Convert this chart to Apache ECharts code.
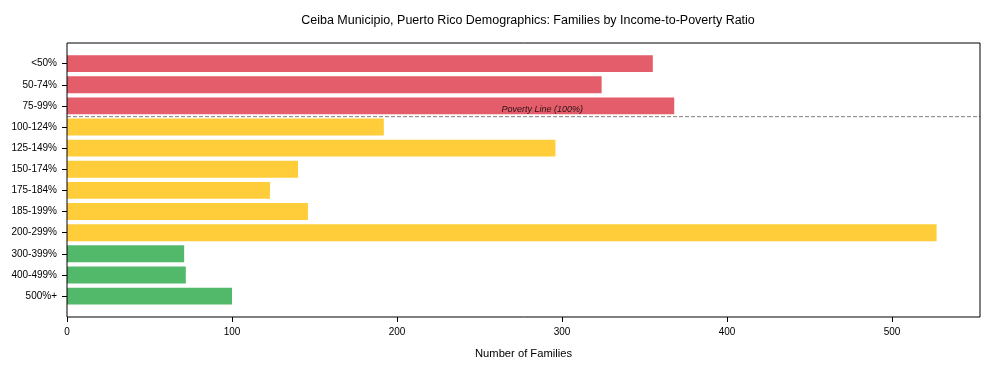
<!DOCTYPE html>
<html><head><meta charset="utf-8">
<script src="https://cdn.jsdelivr.net/npm/echarts@6/dist/echarts.min.js"></script>
<style>html,body{margin:0;padding:0;background:#fff}#c{width:990px;height:370px}</style>
</head><body><div id="c"></div>
<script>
const categories = ['<50%','50-74%','75-99%','100-124%','125-149%','150-174%','175-184%','185-199%','200-299%','300-399%','400-499%','500%+'];
const families = [355, 324, 368, 192, 296, 140, 123, 146, 527, 71, 72, 100];
const groups = ['below','below','below','near','near','near','near','near','near','above','above','above'];
const groupColors = {below:'#e35d6a', near:'#ffcd39', above:'#53b96a'};
const xTicks = [0,100,200,300,400,500];
const xMax = 553.3;
const povertyLinePos = 2.5;
const povertyLabel = 'Poverty Line (100%)';
const povertyLabelX = 288;

const font = 'Liberation Sans, Arial, sans-serif';
const chart = echarts.init(document.getElementById('c'), null, {renderer:'canvas'});
chart.setOption({
  animation:false,
  backgroundColor:'#fff',
  title:{text:'Ceiba Municipio, Puerto Rico Demographics: Families by Income-to-Poverty Ratio',
    left:523, textAlign:'center', top:9,
    textStyle:{fontFamily:font, fontSize:12.5, fontWeight:'normal', color:'#000'}},
  grid:[
    {left:67, right:10, top:43, bottom:53, show:true, borderColor:'#000', borderWidth:1, backgroundColor:'transparent', z:10},
    {left:67, right:10, top:53.05, bottom:63.35, show:false}
  ],
  xAxis:[
    {gridIndex:0, type:'value', min:0, max:xMax, interval:100, position:'bottom',
      name:'Number of Families', nameLocation:'middle', nameGap:31,
      nameTextStyle:{fontFamily:font, fontSize:11.2, color:'#000'},
      axisLine:{show:false, onZero:false}, splitLine:{show:false},
      axisTick:{show:true, length:5, lineStyle:{color:'#000'}, customValues:xTicks},
      axisLabel:{fontFamily:font, fontSize:10, color:'#000', margin:10, customValues:xTicks}},
    {gridIndex:1, type:'value', min:0, max:xMax, show:false, axisLine:{onZero:false}}
  ],
  yAxis:[
    {gridIndex:0, type:'value', min:-0.99, max:11.99, inverse:true, show:false, axisLine:{onZero:false}},
    {gridIndex:1, type:'category', data:categories, inverse:true,
      axisLine:{show:false, onZero:false}, splitLine:{show:false},
      axisTick:{show:true, alignWithLabel:true, length:5, lineStyle:{color:'#000'}},
      axisLabel:{fontFamily:font, fontSize:10, color:'#000', margin:10}}
  ],
  series:[
    {type:'bar', xAxisIndex:1, yAxisIndex:1, barWidth:'80%',
      data:families.map((v,i)=>({value:v, itemStyle:{color:groupColors[groups[i]]}}))},
    {type:'line', xAxisIndex:0, yAxisIndex:0, symbol:'none', z:5,
      lineStyle:{color:'#808080', width:1, type:[4,2]},
      data:[[0,povertyLinePos],[xMax,povertyLinePos]]},
    {type:'scatter', xAxisIndex:0, yAxisIndex:0, symbolSize:0, z:6,
      data:[[povertyLabelX, povertyLinePos]],
      label:{show:true, position:'top', distance:3, formatter:povertyLabel,
        fontFamily:font, fontSize:9, fontStyle:'italic', color:'#000'}}
  ]
});
</script></body></html>
